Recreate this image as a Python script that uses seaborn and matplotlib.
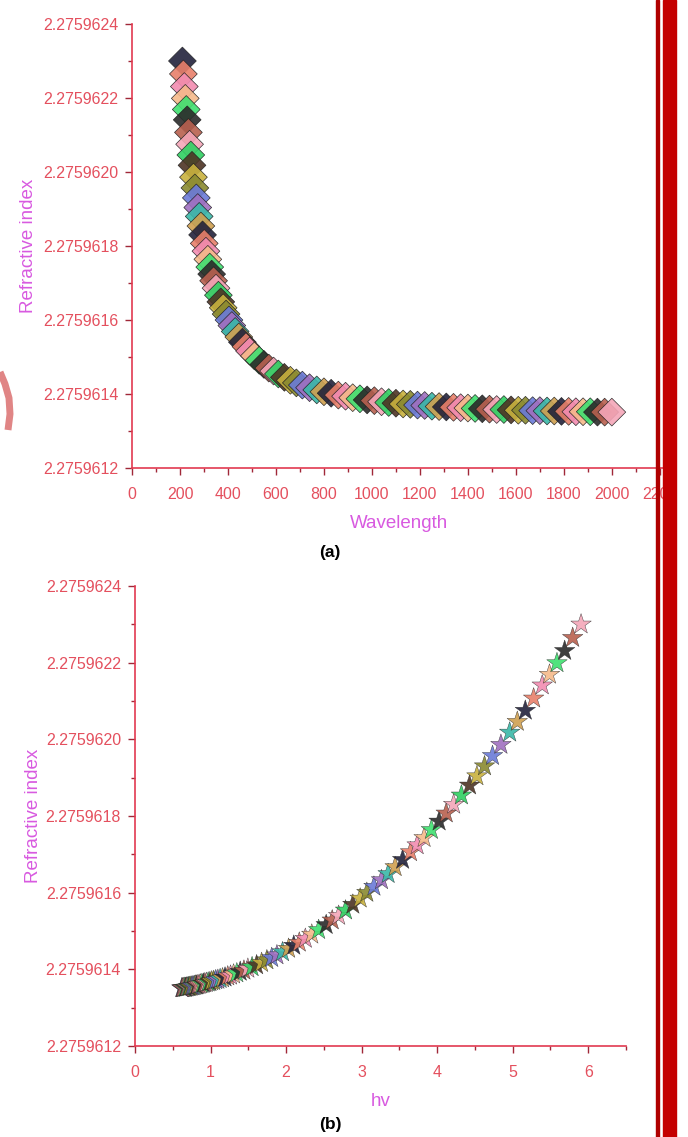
import numpy as np
import pandas as pd
import matplotlib
matplotlib.use("Agg")
import matplotlib.pyplot as plt
from matplotlib.ticker import FixedLocator, FuncFormatter, AutoMinorLocator, MultipleLocator
from matplotlib.patches import Rectangle
from matplotlib.lines import Line2D
import seaborn as sns

# ---- data ----
wavelength = [210, 214, 218, 222, 226, 230, 235, 240, 245, 250, 256, 262, 268, 274, 280,
              287, 294, 301, 308, 316, 324, 332, 340, 350, 360, 370, 380, 392, 404, 416,
              430, 445, 460, 475, 490, 510, 530, 550, 570, 590, 610, 635, 660, 685, 710,
              740, 770, 800, 830, 860, 890, 920, 950, 980, 1010, 1040, 1070, 1100, 1130,
              1160, 1190, 1220, 1250, 1280, 1310, 1340, 1370, 1400, 1430, 1460, 1490, 1520,
              1550, 1580, 1610, 1640, 1670, 1700, 1730, 1760, 1790, 1820, 1850, 1880, 1910,
              1940, 1970, 2000]

hv = [5.905, 5.794, 5.688, 5.586, 5.487, 5.391, 5.277, 5.167, 5.061, 4.960, 4.844, 4.733,
      4.627, 4.526, 4.429, 4.321, 4.218, 4.120, 4.026, 3.924, 3.827, 3.735, 3.647, 3.543,
      3.444, 3.351, 3.263, 3.163, 3.069, 2.981, 2.884, 2.787, 2.696, 2.611, 2.531, 2.431,
      2.340, 2.255, 2.175, 2.102, 2.033, 1.953, 1.879, 1.810, 1.746, 1.676, 1.610, 1.550,
      1.494, 1.442, 1.393, 1.348, 1.305, 1.265, 1.228, 1.192, 1.159, 1.127, 1.097, 1.069,
      1.042, 1.016, 0.992, 0.969, 0.947, 0.925, 0.905, 0.886, 0.867, 0.849, 0.832, 0.816,
      0.800, 0.785, 0.770, 0.756, 0.743, 0.729, 0.717, 0.705, 0.693, 0.681, 0.670, 0.660,
      0.649, 0.639, 0.629, 0.620]

refr_index = [2.275962300, 2.275962265, 2.275962231, 2.275962199, 2.275962169, 2.275962141,
              2.275962107, 2.275962075, 2.275962046, 2.275962018, 2.275961986, 2.275961957,
              2.275961930, 2.275961904, 2.275961880, 2.275961854, 2.275961830, 2.275961807,
              2.275961786, 2.275961764, 2.275961743, 2.275961724, 2.275961706, 2.275961686,
              2.275961667, 2.275961649, 2.275961633, 2.275961616, 2.275961600, 2.275961585,
              2.275961569, 2.275961554, 2.275961540, 2.275961528, 2.275961516, 2.275961503,
              2.275961491, 2.275961480, 2.275961470, 2.275961462, 2.275961454, 2.275961445,
              2.275961437, 2.275961430, 2.275961424, 2.275961417, 2.275961411, 2.275961406,
              2.275961402, 2.275961397, 2.275961394, 2.275961390, 2.275961387, 2.275961384,
              2.275961382, 2.275961379, 2.275961377, 2.275961375, 2.275961373, 2.275961372,
              2.275961370, 2.275961369, 2.275961367, 2.275961366, 2.275961365, 2.275961364,
              2.275961363, 2.275961362, 2.275961361, 2.275961360, 2.275961359, 2.275961358,
              2.275961358, 2.275961357, 2.275961356, 2.275961356, 2.275961355, 2.275961355,
              2.275961354, 2.275961354, 2.275961353, 2.275961353, 2.275961352, 2.275961352,
              2.275961352, 2.275961351, 2.275961351, 2.275961351]

y_ticks = [2.2759612, 2.2759614, 2.2759616, 2.2759618, 2.2759620, 2.2759622, 2.2759624]
xa_ticks = [0, 200, 400, 600, 800, 1000, 1200, 1400, 1600, 1800, 2000, 2200]
xb_ticks = [0, 1, 2, 3, 4, 5, 6]

# Origin-like colour cycle of the plotted series
colors = ['#22223c', '#e8806a', '#f28cb1', '#f5b98a', '#3fe070', '#2a2a2a', '#b8604f',
          '#f4a6b8', '#2fd062', '#4e3424', '#c9b23e', '#8a8a30', '#6a7ad8', '#a070c0',
          '#3ab8a8', '#d0a050']

# ---- style ----
sns.set_theme(style="white")
plt.rcParams['font.family'] = ['Liberation Sans', 'DejaVu Sans']

SPINE = '#e23a50'
TICK = '#a02838'
TLAB = '#e4505e'
ALAB = '#d85ae0'

n = len(wavelength)
df = pd.DataFrame({
    'wavelength': wavelength,
    'hv': hv,
    'n': refr_index,
    'series': [str(i % len(colors)) for i in range(n)],
})
hue_order = [str(i) for i in range(len(colors))]

fig = plt.figure(figsize=(6.88, 11.37), dpi=100)
ax_a = fig.add_axes([0.1919, 0.5884, 0.7776, 0.3905])
ax_b = fig.add_axes([0.1962, 0.0800, 0.7137, 0.4046])

sns.scatterplot(data=df, x='wavelength', y='n', hue='series', hue_order=hue_order,
                palette=colors, marker='D', s=200, edgecolor='#1e1e1e', linewidth=0.5,
                alpha=0.9, legend=False, ax=ax_a, zorder=3)

df_b = df.iloc[::-1].reset_index(drop=True)
df_b['series'] = [str(i % len(colors)) for i in range(n)]
sns.scatterplot(data=df_b, x='hv', y='n', hue='series', hue_order=hue_order,
                palette=colors, marker='*', s=240, edgecolor='#222222', linewidth=0.3,
                alpha=0.9, legend=False, ax=ax_b, zorder=3)

ax_a.set_xlim(0, 2230)
ax_b.set_xlim(0, 6.5)

fmt = FuncFormatter(lambda v, p: f'{v:.7f}')
for ax, xt, minor, xlab in [(ax_a, xa_ticks, 100, 'Wavelength'), (ax_b, xb_ticks, 0.5, 'hv')]:
    ax.set_ylim(y_ticks[0], y_ticks[-1])
    ax.yaxis.set_major_locator(FixedLocator(y_ticks))
    ax.yaxis.set_major_formatter(fmt)
    ax.yaxis.set_minor_locator(AutoMinorLocator(2))
    ax.xaxis.set_major_locator(FixedLocator(xt))
    ax.xaxis.set_minor_locator(MultipleLocator(minor))
    for s in ['top', 'right']:
        ax.spines[s].set_visible(False)
    for s in ['left', 'bottom']:
        ax.spines[s].set_color(SPINE)
        ax.spines[s].set_linewidth(1.2)
    ax.tick_params(which='both', direction='out', color=TICK, width=1.0,
                   labelcolor=TLAB, labelsize=11.5, left=True, bottom=True)
    ax.tick_params(which='major', length=5)
    ax.tick_params(axis='x', which='major', pad=9)
    ax.tick_params(axis='y', which='major', pad=5)
    ax.tick_params(which='minor', length=3)
    ax.set_ylabel('Refractive index', color=ALAB, fontsize=13.5)
    ax.set_xlabel(xlab, color=ALAB, fontsize=13.5, labelpad=9)
    ax.set_facecolor('white')
    ax.grid(False)

ax_a.yaxis.set_label_coords(-0.178, 0.5)
ax_b.yaxis.set_label_coords(-0.19, 0.5)

fig.text(330 / 688, 1 - 553 / 1137, '(a)', ha='center', va='center',
         fontsize=12.5, fontweight='bold', color='black')
fig.text(330 / 688, 1 - 1124 / 1137, '(b)', ha='center', va='center',
         fontsize=12.5, fontweight='bold', color='black')

# page border bar on the right and a bit of the watermark on the left
fig.patches.append(Rectangle((656 / 688, 0), 2.5 / 688, 1, transform=fig.transFigure,
                             color='#b00000', zorder=10))
fig.patches.append(Rectangle((663 / 688, 0), 13 / 688, 1, transform=fig.transFigure,
                             color='#c40000', zorder=10))
wm_x = [0, 5, 9, 10, 8]
wm_y = [372, 384, 398, 414, 430]
fig.lines.append(Line2D([v / 688 for v in wm_x], [1 - v / 1137 for v in wm_y],
                        transform=fig.transFigure, color='#e08585', linewidth=5,
                        solid_capstyle='butt', zorder=10))

fig.savefig('out.png', dpi=100, facecolor='white')
